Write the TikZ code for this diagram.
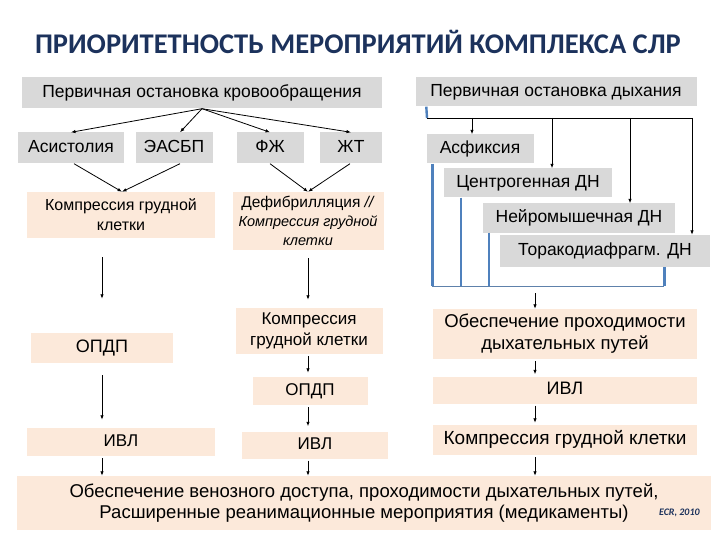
\documentclass[tikz,border=0pt]{standalone}
\usepackage{fontspec}
\setmainfont{Liberation Sans}
\newfontfamily\titlefont{Carlito}
\usetikzlibrary{positioning,arrows.meta,calc}
\definecolor{boxgray}{RGB}{217,217,217}
\definecolor{boxpeach}{RGB}{252,233,218}
\definecolor{titleblue}{RGB}{28,50,92}
\definecolor{linkblue}{RGB}{79,129,189}

\begin{document}
\begin{tikzpicture}[
    x=1pt, y=-1pt,
    gbox/.style={fill=boxgray, inner sep=0pt, align=center, text height=12.5pt, text depth=3.5pt, font=\fontsize{17.5}{20}\selectfont},
    pbox/.style={fill=boxpeach, inner sep=0pt, align=center, font=\fontsize{17}{21}\selectfont},
    oneline/.style={text height=12.5pt, text depth=3.5pt},
    arr/.style={-{Latex[length=4.5pt,width=3.5pt]}, line width=0.8pt},
    link/.style={draw=linkblue, line width=2.6pt}
]
\useasboundingbox (0,0) rectangle (720,540);

\node[font=\titlefont\bfseries\fontsize{28.5}{32}\selectfont, text=titleblue] (title) at (358,42) {ПРИОРИТЕТНОСТЬ МЕРОПРИЯТИЙ КОМПЛЕКСА СЛР};

% circulation branch
\node[gbox, minimum width=360, minimum height=31] (cardiac) at (202,93) {Первичная остановка кровообращения};
\node[gbox, minimum width=106, minimum height=31] (asys) at (71,148) {Асистолия};
\node[gbox, minimum width=77, minimum height=31] (easbp) at (174,148) {ЭАСБП};
\node[gbox, minimum width=67, minimum height=31] (vf) at (270,148) {ФЖ};
\node[gbox, minimum width=62, minimum height=31] (vt) at (351,148) {ЖТ};

% respiration branch
\node[gbox, minimum width=281, minimum height=29] (resp) at (556,92) {Первичная остановка дыхания};
\node[gbox, minimum width=107, minimum height=29] (asph) at (480,149) {Асфиксия};
\node[gbox, minimum width=168, minimum height=29] (central) at (528,183) {Центрогенная ДН};
\node[gbox, minimum width=192, minimum height=29] (neuro) at (579,218) {Нейромышечная ДН};
\node[gbox, minimum width=210, minimum height=32] (thorax) at (605,251) {Торакодиафрагм. ДН};

% left column
\node[pbox, minimum width=188, minimum height=46, font=\fontsize{16}{20}\selectfont] (lcomp) at (121,215) {Компрессия грудной\\клетки};
\node[pbox, oneline, minimum width=142, minimum height=30, font=\fontsize{18}{21}\selectfont] (lopdp) at (102,348) {ОПДП};
\node[pbox, oneline, minimum width=188, minimum height=28] (livl) at (121,442) {ИВЛ};

% middle column
\node[pbox, minimum width=151, minimum height=58, font=\fontsize{15.5}{19}\selectfont] (defib) at (308,221) {Дефибрилляция \textit{//}\\\textit{\fontsize{14.5}{19}\selectfont Компрессия грудной}\\\textit{\fontsize{14.5}{19}\selectfont клетки}};
\node[pbox, minimum width=147, minimum height=46, font=\fontsize{17}{21}\selectfont] (mcomp) at (309,331) {Компрессия\\грудной клетки};
\node[pbox, oneline, minimum width=115, minimum height=28] (mopdp) at (310,391) {ОПДП};
\node[pbox, oneline, minimum width=146, minimum height=27] (mivl) at (315,445) {ИВЛ};

% right column
\node[pbox, minimum width=264, minimum height=50, font=\fontsize{18.5}{22}\selectfont] (airway) at (565,334) {Обеспечение проходимости\\дыхательных путей};
\node[pbox, oneline, minimum width=264, minimum height=27, font=\fontsize{18}{21}\selectfont] (rivl) at (565,390) {ИВЛ};
\node[pbox, oneline, minimum width=264, minimum height=30, font=\fontsize{19}{22}\selectfont] (rcomp) at (565,440) {Компрессия грудной клетки};

% final step
\node[pbox, minimum width=694, minimum height=54, font=\fontsize{18.5}{21}\selectfont] (final) at (364,503) {Обеспечение венозного доступа, проходимости дыхательных путей,\\Расширенные реанимационные мероприятия (медикаменты)\hspace{44pt}};
\node[font=\titlefont\bfseries\itshape\fontsize{10}{11}\selectfont, text=titleblue, anchor=east] (source) at ([xshift=-8pt,yshift=-10pt]final.east) {ECR, 2010};

% arrows from circulation arrest
\draw[arr] (cardiac.south) -- (asys.north);
\draw[arr] (cardiac.south) -- ([xshift=6pt]easbp.north);
\draw[arr] (cardiac.south) -- (vf.north);
\draw[arr] (cardiac.south) -- (vt.north);
\draw[arr] ([xshift=3pt]asys.south) -- ([xshift=1pt]lcomp.north);
\draw[arr] ([xshift=6pt]easbp.south) -- ([xshift=1pt]lcomp.north);
\draw[arr] (vf.south) -- (defib.north);
\draw[arr] ([xshift=-1pt]vt.south) -- (defib.north);

% arrows from respiratory arrest
\coordinate (rbar) at (427,118);
\draw[draw=linkblue, line width=2.4pt] ([xshift=11pt]resp.south west) -- (rbar);
\draw[line width=0.8pt] (rbar) -- (692,118);
\draw[arr] (rbar -| 472,0) -- (asph.north -| 472,0);
\draw[arr] (rbar -| 552,0) -- (central.north -| 552,0);
\draw[arr] (rbar -| 630,0) -- (neuro.north -| 630,0);
\draw[arr] (rbar -| 692,0) -- (thorax.north -| 692,0);

% blue bracket
\coordinate (rjoin) at (535,286);
\draw[link] ([xshift=6pt]asph.south west) -- ([xshift=6pt]asph.south west |- rjoin);
\draw[link] ([xshift=17pt]central.south west) -- ([xshift=17pt]central.south west |- rjoin);
\draw[link] ([xshift=6pt]neuro.south west) -- ([xshift=6pt]neuro.south west |- rjoin);
\draw[link] ([xshift=-46pt]thorax.south east) -- ([xshift=-46pt]thorax.south east |- rjoin);
\draw[draw=linkblue!70!gray, line width=1pt] ([xshift=6pt]asph.south west |- rjoin) -- ([xshift=-46pt]thorax.south east |- rjoin);

% left column arrows
\draw[arr, shorten <=19pt, shorten >=34pt] (lopdp.north |- lcomp.south) -- (lopdp.north);
\draw[arr, shorten <=12pt, shorten >=8pt] (lopdp.south) -- (lopdp.south |- livl.north);
\draw[arr, shorten <=2pt] (lopdp.south |- livl.south) -- (lopdp.south |- final.north);

% middle column arrows
\draw[arr, shorten <=8pt, shorten >=8pt] (defib.south) -- (defib.south |- mcomp.north);
\draw[arr, shorten <=2pt, shorten >=4pt] (defib.south |- mcomp.south) -- (defib.south |- mopdp.north);
\draw[arr, shorten <=2pt, shorten >=5pt] (defib.south |- mopdp.south) -- (defib.south |- mivl.north);
\draw[arr, shorten <=2pt] (defib.south |- mivl.south) -- (defib.south |- final.north);

% right column arrows
\draw[arr, shorten <=7pt] (rjoin) -- (airway.north -| rjoin);
\draw[arr, shorten <=2pt, shorten >=2pt] (airway.south -| rjoin) -- (rivl.north -| rjoin);
\draw[arr, shorten <=2pt, shorten >=2pt] (rivl.south -| rjoin) -- (rcomp.north -| rjoin);
\draw[arr, shorten <=2pt] (rcomp.south -| rjoin) -- (final.north -| rjoin);
\end{tikzpicture}
\end{document}
